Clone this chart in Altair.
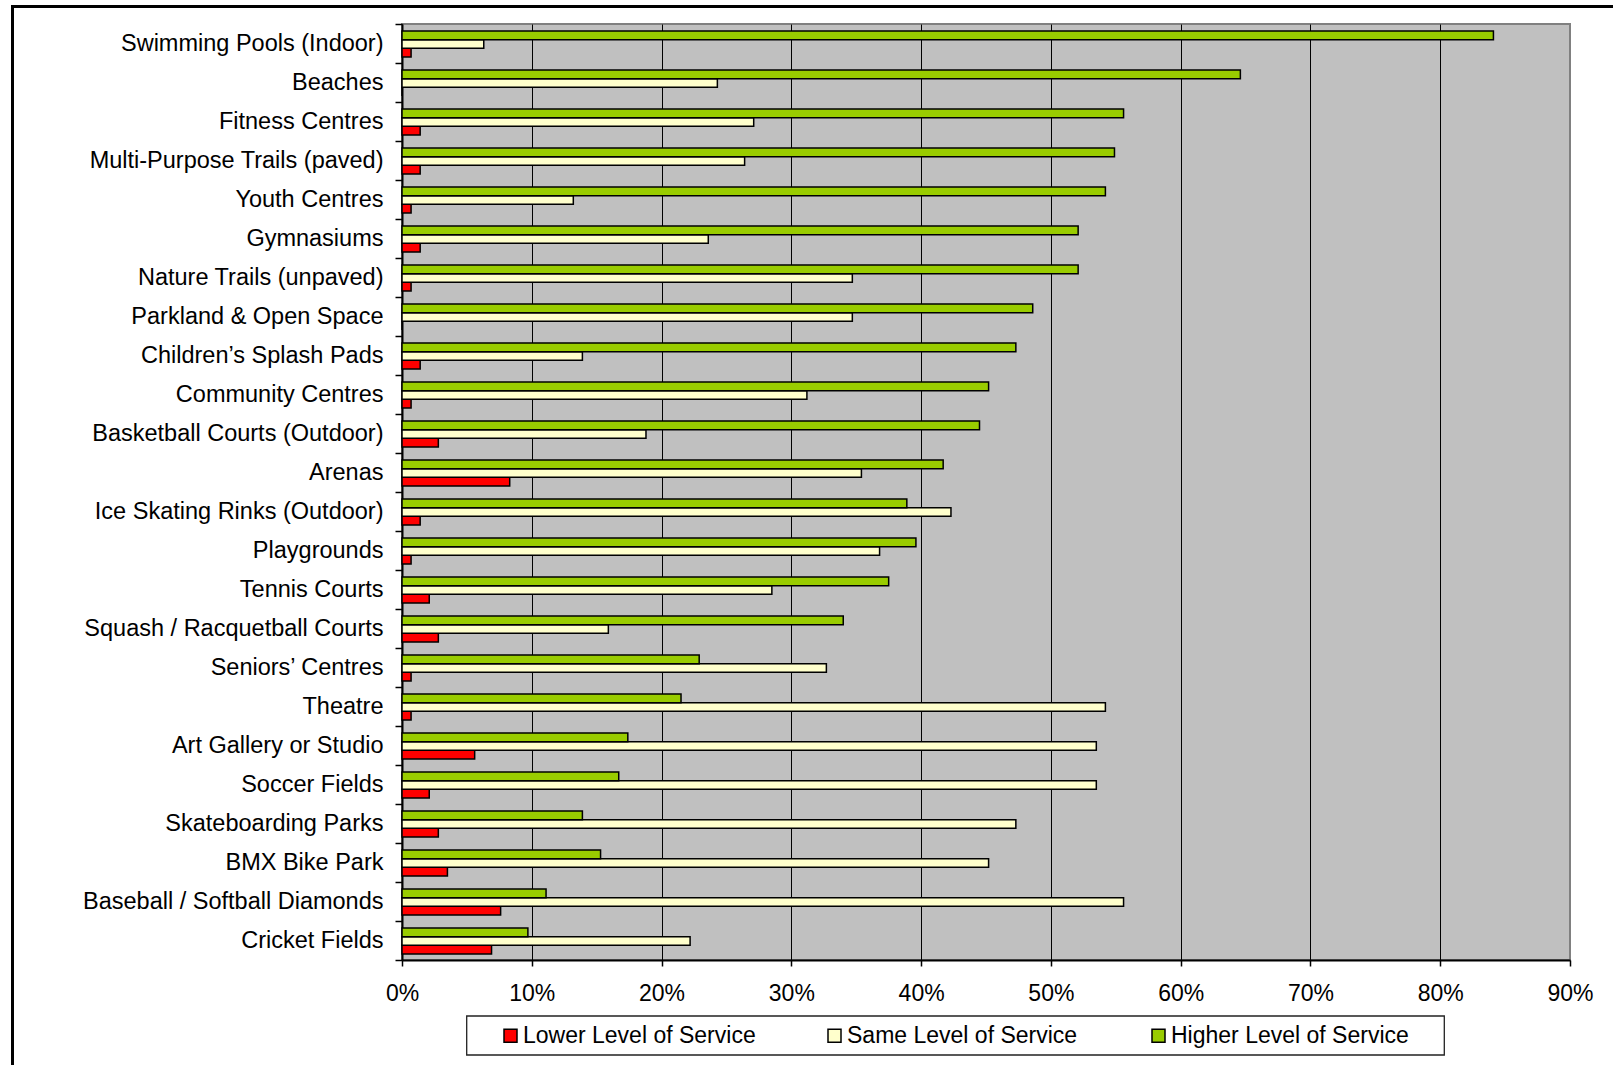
import altair as alt
import pandas as pd

categories = [
    "Swimming Pools (Indoor)", "Beaches", "Fitness Centres",
    "Multi-Purpose Trails (paved)", "Youth Centres", "Gymnasiums",
    "Nature Trails (unpaved)", "Parkland & Open Space", "Children\u2019s Splash Pads",
    "Community Centres", "Basketball Courts (Outdoor)", "Arenas",
    "Ice Skating Rinks (Outdoor)", "Playgrounds", "Tennis Courts",
    "Squash / Racquetball Courts", "Seniors\u2019 Centres", "Theatre",
    "Art Gallery or Studio", "Soccer Fields", "Skateboarding Parks",
    "BMX Bike Park", "Baseball / Softball Diamonds", "Cricket Fields",
]
higher = [84.1, 64.6, 55.6, 54.9, 54.2, 52.1, 52.1, 48.6, 47.3, 45.2, 44.5, 41.7,
          38.9, 39.6, 37.5, 34.0, 22.9, 21.5, 17.4, 16.7, 13.9, 15.3, 11.1, 9.7]
same = [6.3, 24.3, 27.1, 26.4, 13.2, 23.6, 34.7, 34.7, 13.9, 31.2, 18.8, 35.4,
        42.3, 36.8, 28.5, 15.9, 32.7, 54.2, 53.5, 53.5, 47.3, 45.2, 55.6, 22.2]
lower = [0.7, 0.0, 1.4, 1.4, 0.7, 1.4, 0.7, 0.0, 1.4, 0.7, 2.8, 8.3,
         1.4, 0.7, 2.1, 2.8, 0.7, 0.7, 5.6, 2.1, 2.8, 3.5, 7.6, 6.9]

series = ["Lower Level of Service", "Same Level of Service", "Higher Level of Service"]
colors = ["#FF0000", "#FFFFCC", "#99CC00"]
tick_values = [0, 0.1, 0.2, 0.3, 0.4, 0.5, 0.6, 0.7, 0.8, 0.9]

rows = []
for i, c in enumerate(categories):
    for name, vals in zip(series, [lower, same, higher]):
        rows.append({"Facility": c, "Response": name, "Share": vals[i] / 100.0})
df = pd.DataFrame(rows)

FONT = "Liberation Sans"

bars = alt.Chart(df).mark_bar(stroke="black", strokeWidth=1.5, cornerRadius=0).encode(
    x=alt.X(
        "Share:Q",
        scale=alt.Scale(domain=[0, 0.9], nice=False, zero=True),
        axis=alt.Axis(
            values=tick_values, format=".0%", title=None, grid=True,
            gridColor={"condition": {"test": "datum.value >= 0.85", "value": "#808080"}, "value": "black"},
            gridWidth=1, domainColor="black", domainWidth=2,
            tickColor="black", tickSize=6, tickWidth=1.5, labelFlush=False,
            labelAlign="center",
            labelFontSize=23, labelPadding=16, labelFont=FONT, labelColor="black",
        ),
    ),
    y=alt.Y(
        "Facility:N", sort=categories,
        scale=alt.Scale(paddingInner=0, paddingOuter=0),
        axis=alt.Axis(
            title=None, bandPosition=1, tickExtra=True, ticks=True, tickSize=7,
            tickColor="black", tickWidth=1.5, domainColor="black", domainWidth=2,
            labelFontSize=23.5, labelPadding=12, labelLimit=400, labelFont=FONT,
            labelColor="black", grid=False,
        ),
    ),
    yOffset=alt.YOffset(
        "Response:N", sort=list(reversed(series)),
        scale=alt.Scale(paddingInner=0, paddingOuter=0.75, align=0.54),
    ),
    fill=alt.Fill(
        "Response:N",
        scale=alt.Scale(domain=series, range=colors),
        legend=alt.Legend(
            orient="none", legendX=97, legendY=1000, direction="horizontal",
            columns=3, title=None, symbolType="square", symbolSize=169,
            symbolStrokeColor="black", symbolStrokeWidth=1.5,
            labelFontSize=23, labelFont=FONT, labelColor="black", labelOffset=1,
            columnPadding=62, gridAlign="all", padding=0, labelLimit=400,
        ),
    ),
)

one = pd.DataFrame({"k": [0]})

legend_box = alt.Chart(one).mark_rect(filled=False, stroke="#222222", strokeWidth=1.3).encode(
    x=alt.value(64.7), x2=alt.value(1042.3), y=alt.value(992), y2=alt.value(1031)
)

outer_frame = alt.Chart(one).mark_rect(filled=False, stroke="black", strokeWidth=3).encode(
    x=alt.value(-389.5), x2=alt.value(1230), y=alt.value(-17.5), y2=alt.value(1060)
)

chart = alt.layer(outer_frame, legend_box, bars).properties(
    width=1168, height=936,
    autosize=alt.AutoSizeParams(type="none"),
    padding={"left": 402, "top": 24, "right": 43, "bottom": 105},
).configure(
    font=FONT, background="white"
).configure_view(
    fill="#C0C0C0", stroke="#808080", strokeWidth=2
)

chart.save("out.html", embed_options={"renderer": "svg", "actions": False})
